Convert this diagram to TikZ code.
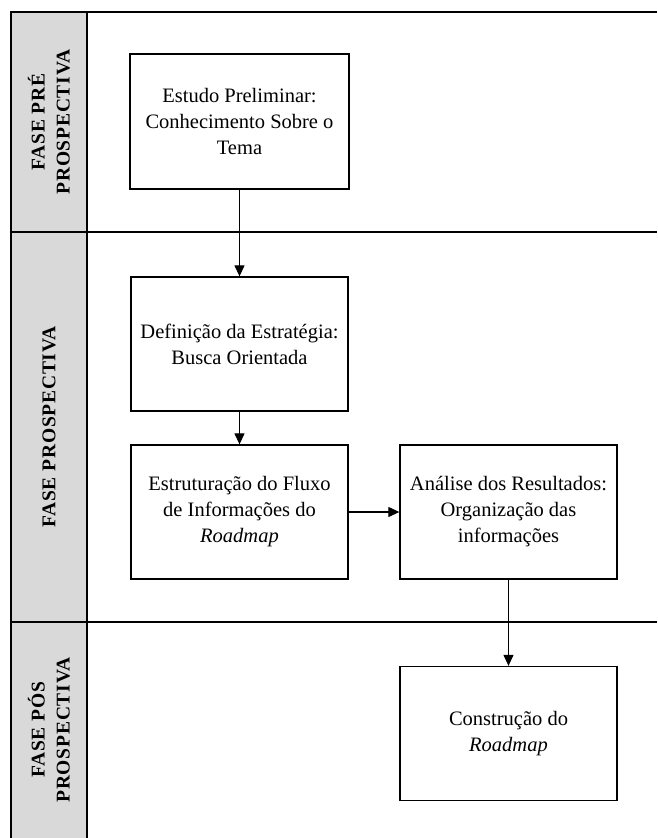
\documentclass[tikz,border=0pt]{standalone}
\usepackage{fontspec}
\setmainfont{Liberation Serif}
\usetikzlibrary{arrows.meta}
\definecolor{lanegray}{HTML}{D9D9D9}
\tikzset{
  stepbox/.style={draw, line width=1.3pt, minimum width=217pt, minimum height=134pt, inner sep=2pt, align=center, font=\fontsize{20.5}{26}\selectfont},
  lanelabel/.style={rotate=90, align=center, font=\fontsize{19.5}{25}\selectfont\bfseries\addfontfeature{LetterSpace=4}},
  laneline/.style={line width=1.6pt},
  flow/.style={line width=1.2pt, -{Triangle[length=11pt,width=10pt]}}
}
\begin{document}
\begin{tikzpicture}[x=1pt,y=-1pt]
\useasboundingbox (0,0) rectangle (657,838);
\fill[lanegray] (11,12) rectangle (87,838);
\draw[laneline] (11,838) -- (11,12) -- (657,12);
\draw[laneline] (87,12) -- (87,838);
\draw[laneline] (11,232) -- (657,232);
\draw[laneline] (11,622) -- (657,622);
\node[lanelabel] (l1) at (49,122) {FASE PRÉ\\PROSPECTIVA};
\node[lanelabel] (l2) at (49,427) {FASE PROSPECTIVA};
\node[lanelabel] (l3) at (49,730) {FASE PÓS\\PROSPECTIVA};
\node[stepbox, minimum width=219pt, minimum height=135pt] (b1) at (239.5,121.5) {Estudo Preliminar:\\Conhecimento Sobre o\\Tema};
\node[stepbox] (b2) at (239.5,344) {Definição da Estratégia:\\Busca Orientada};
\node[stepbox] (b3) at (239.5,512) {Estruturação do Fluxo\\de Informações do\\\textit{Roadmap}};
\node[stepbox] (b4) at (508.5,512) {Análise dos Resultados:\\Organização das\\informações};
\node[stepbox] (b5) at (508.5,733.5) {Construção do\\\textit{Roadmap}};
\draw[flow] (b1) -- (b2);
\draw[flow] (b2) -- (b3);
\draw[flow] (b3) -- (b4);
\draw[flow] (b4) -- (b5);
\end{tikzpicture}
\end{document}
